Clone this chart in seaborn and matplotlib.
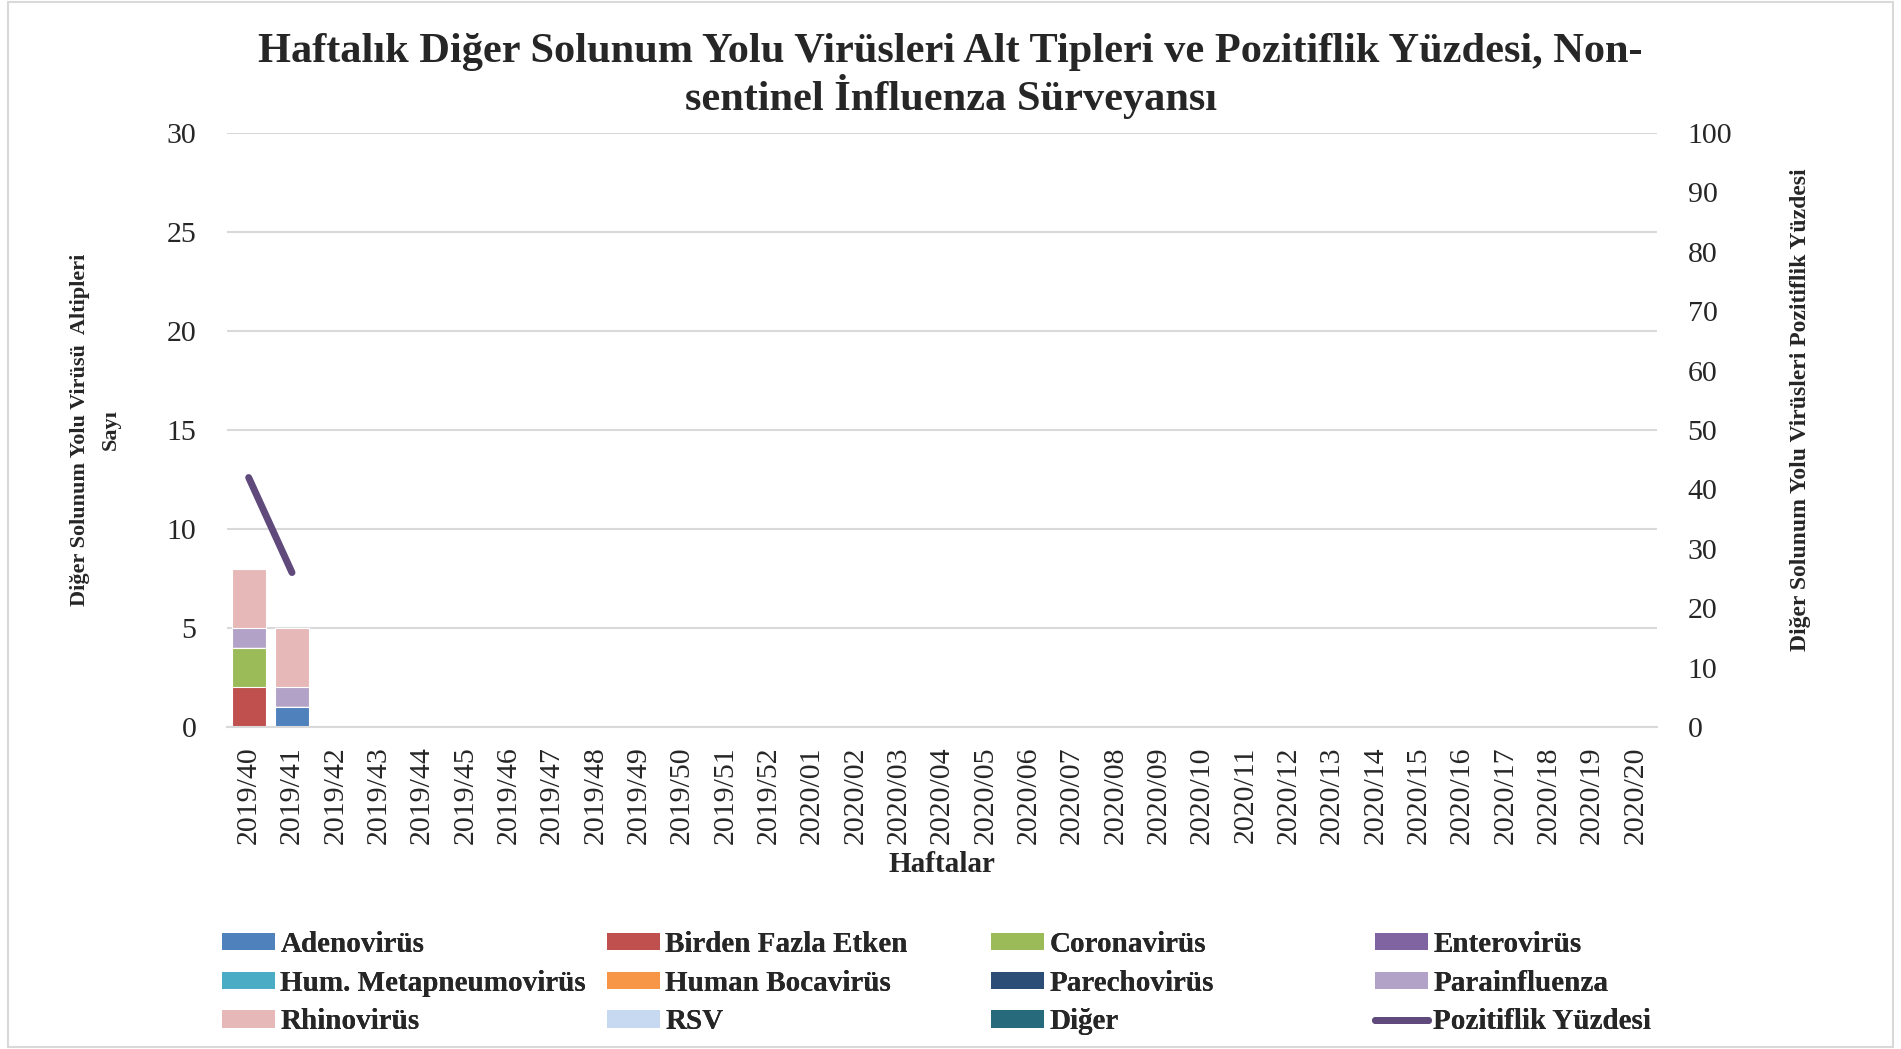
import matplotlib
matplotlib.use("Agg")
import matplotlib.pyplot as plt
import seaborn as sns
import pandas as pd
import numpy as np
from matplotlib.patches import Patch
from matplotlib.lines import Line2D

weeks = [f"2019/{w}" for w in range(40, 53)] + [f"2020/{w:02d}" for w in range(1, 21)]

series_names = ["Adenovirüs", "Birden Fazla Etken", "Coronavirüs", "Enterovirüs",
                "Hum. Metapneumovirüs", "Human Bocavirüs", "Parechovirüs", "Parainfluenza",
                "Rhinovirüs", "RSV", "Diğer"]
colors = ["#4F81BD", "#C0504D", "#9BBB59", "#8064A2", "#4BACC6", "#F79646",
          "#2C4D75", "#B3A2C7", "#E6B9B8", "#C6D9F1", "#276A7C"]

n = len(weeks)
adeno = [0, 1] + [0] * (n - 2)
birden = [2, 0] + [0] * (n - 2)
corona = [2, 0] + [0] * (n - 2)
entero = [0] * n
hmpv = [0] * n
boca = [0] * n
parecho = [0] * n
parainf = [1, 1] + [0] * (n - 2)
rhino = [3, 3] + [0] * (n - 2)
rsv = [0] * n
diger = [0] * n

pos_weeks = ["2019/40", "2019/41"]
pos_pct = [42, 26]

values = [adeno, birden, corona, entero, hmpv, boca, parecho, parainf, rhino, rsv, diger]

sns.set_style("white")
plt.rcParams['font.family'] = ['Liberation Serif', 'DejaVu Serif']

W, H = 1901, 1049
fig = plt.figure(figsize=(W / 100, H / 100), dpi=100)
ax = fig.add_axes([227 / W, 1 - 727 / H, (1657 - 227) / W, (727 - 133) / H])

df = pd.DataFrame({name: vals for name, vals in zip(series_names, values)}, index=weeks)
cum = df.cumsum(axis=1)

# draw from top layer down so each lower layer overlays
for i in range(len(series_names) - 1, -1, -1):
    name = series_names[i]
    d = pd.DataFrame({"week": weeks, "val": cum[name].values})
    sns.barplot(data=d, x="week", y="val", color=colors[i], saturation=1,
                width=0.78, ax=ax, order=weeks, edgecolor="white", linewidth=0.8)

TICK = 21.5
ax.set_ylim(0, 30)
ax.set_yticks(range(0, 31, 5))
ax.set_xlim(-0.5, n - 0.5)
ax.yaxis.grid(True, color="#D9D9D9", linewidth=1.5)
ax.set_axisbelow(True)
for s in ["top", "right", "left"]:
    ax.spines[s].set_visible(False)
ax.spines["bottom"].set_color("#D9D9D9")
ax.spines["bottom"].set_linewidth(1.5)
ax.tick_params(axis="both", length=0)
ax.tick_params(axis="y", labelsize=TICK, pad=22)
ax.tick_params(axis="x", labelsize=TICK, pad=14)
plt.setp(ax.get_xticklabels(), rotation=90)
ax.set_xlabel("Haftalar", fontsize=21, fontweight="bold", labelpad=5)
ax.set_ylabel("Diğer Solunum Yolu Virüsü  Altipleri\nSayı", fontsize=16,
              fontweight="bold", labelpad=33, linespacing=1.75)

ax2 = ax.twinx()
pdf = pd.DataFrame({"week": [weeks.index(w) for w in pos_weeks], "pct": pos_pct})
sns.lineplot(data=pdf, x="week", y="pct", color="#604A7B", linewidth=5,
             solid_capstyle="round", ax=ax2)
ax2.set_ylim(0, 100)
ax2.set_yticks(range(0, 101, 10))
ax2.set_xlim(-0.5, n - 0.5)
for s in ["top", "right", "left", "bottom"]:
    ax2.spines[s].set_visible(False)
ax2.tick_params(axis="y", length=0, labelsize=TICK, pad=22)
ax2.set_ylabel("Diğer Solunum Yolu Virüsleri Pozitiflik Yüzdesi", fontsize=17,
               fontweight="bold")
ax2.yaxis.set_label_coords(1.093, 0.535)
ax2.set_xlabel("")

fig.suptitle("Haftalık Diğer Solunum Yolu Virüsleri Alt Tipleri ve Pozitiflik Yüzdesi, Non-\nsentinel İnfluenza Sürveyansı",
             fontsize=30.5, fontweight="bold", y=0.969, linespacing=1.1)

# legend: 4 columns, each its own legend so columns are evenly spaced
handles = [Patch(facecolor=c, edgecolor="none") for c in colors]
handles.append(Line2D([0], [0], color="#604A7B", linewidth=5, solid_capstyle="round"))
labels = series_names + ["Pozitiflik Yüzdesi"]
col_x = [222, 607, 991, 1375]
for c in range(4):
    idxs = [r * 4 + c for r in range(3) if r * 4 + c < len(handles)]
    leg = fig.legend([handles[i] for i in idxs], [labels[i] for i in idxs],
                     loc="upper left", bbox_to_anchor=(col_x[c] / W, 1 - 931 / H),
                     frameon=False, prop={"size": 21, "weight": "bold"},
                     handlelength=1.8, handleheight=0.55, handletextpad=0.2,
                     labelspacing=0.4, borderpad=0, borderaxespad=0)
    fig.add_artist(leg)

# figure border
fig.patches.append(plt.Rectangle((0.004, 0.002), 0.992, 0.996, transform=fig.transFigure,
                                 fill=False, edgecolor="#D9D9D9", linewidth=1.5))

fig.savefig("out.png", dpi=100)
